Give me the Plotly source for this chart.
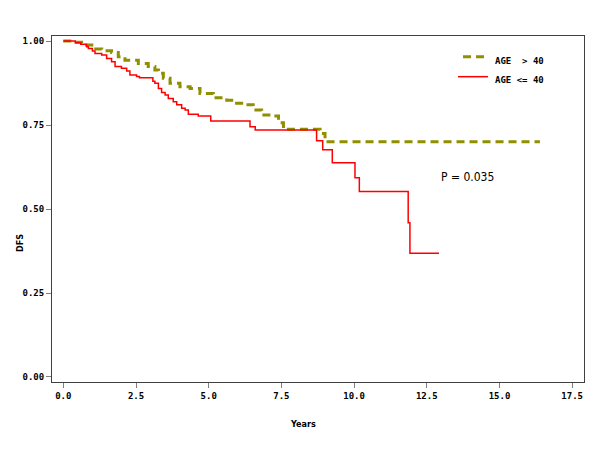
import plotly.graph_objects as go

# ---- data ----
older_years = [0.0, 0.40, 0.63, 0.80, 0.98, 1.32, 1.66, 1.89, 2.12, 2.58, 2.92, 3.15, 3.27, 3.44,
               3.67, 4.01, 4.36, 4.70, 5.16, 5.62, 5.96, 6.19, 6.53, 6.82, 7.17, 7.40, 7.57,
               8.83, 9.00, 16.39]
older_dfs = [1.000, 0.996, 0.993, 0.988, 0.976, 0.971, 0.966, 0.953, 0.943, 0.933, 0.924, 0.914,
             0.904, 0.889, 0.874, 0.864, 0.859, 0.844, 0.831, 0.824, 0.815, 0.810, 0.795, 0.780,
             0.777, 0.757, 0.737, 0.725, 0.700, 0.700]

younger_years = [0.0, 0.41, 0.60, 0.80, 0.86, 1.00, 1.09, 1.32, 1.49, 1.66, 1.78, 2.00, 2.18,
                 2.29, 2.52, 2.62, 3.08, 3.15, 3.27, 3.38, 3.50, 3.61, 3.78, 3.90, 4.07, 4.19,
                 4.30, 4.64, 5.07, 6.42, 6.60, 8.71, 8.92, 9.25, 10.03, 10.18, 11.86, 11.92,
                 12.92]
younger_dfs = [1.000, 0.995, 0.990, 0.983, 0.978, 0.970, 0.963, 0.958, 0.948, 0.938, 0.924, 0.919,
               0.911, 0.899, 0.894, 0.891, 0.880, 0.874, 0.859, 0.847, 0.839, 0.829, 0.819, 0.810,
               0.800, 0.795, 0.782, 0.777, 0.762, 0.745, 0.735, 0.703, 0.676, 0.638, 0.593,
               0.552, 0.459, 0.368, 0.368]

x_ticks = [0.0, 2.5, 5.0, 7.5, 10.0, 12.5, 15.0, 17.5]
y_ticks = [0.00, 0.25, 0.50, 0.75, 1.00]
series_names = ["AGE  > 40", "AGE <= 40"]
p_text = "P = 0.035"

OLIVE = "#8f8f00"
RED = "#ff0000"
AXIS = "#404040"
MONO = "DejaVu Sans Mono, monospace"
NARROW = "DejaVu Sans Condensed, Liberation Sans Narrow, sans-serif"

fig = go.Figure()
fig.add_trace(go.Scatter(x=older_years, y=older_dfs, mode="lines", line_shape="hv",
                         line=dict(color=OLIVE, width=3, dash="8px,5px"),
                         name=series_names[0], showlegend=False))
fig.add_trace(go.Scatter(x=younger_years, y=younger_dfs, mode="lines", line_shape="hv",
                         line=dict(color=RED, width=1.5),
                         name=series_names[1], showlegend=False))

# manual legend
fig.add_shape(type="line", xref="paper", yref="paper", x0=0.7726, x1=0.8195, y0=0.9402, y1=0.9402,
              line=dict(color=OLIVE, width=3, dash="8px,5px"))
fig.add_shape(type="line", xref="paper", yref="paper", x0=0.7632, x1=0.8195, y0=0.8824, y1=0.8824,
              line=dict(color=RED, width=1.5))
fig.add_annotation(xref="paper", yref="paper", x=0.9286, y=0.9286, xanchor="right", yanchor="middle",
                   text=series_names[0], showarrow=False,
                   font=dict(family=MONO, size=9, color="black", weight="bold"))
fig.add_annotation(xref="paper", yref="paper", x=0.9286, y=0.8728, xanchor="right", yanchor="middle",
                   text=series_names[1].replace("<", "&lt;"), showarrow=False,
                   font=dict(family=MONO, size=9, color="black", weight="bold"))

# p-value
fig.add_annotation(x=12.92, y=0.595, xanchor="left", yanchor="middle", text=p_text, showarrow=False,
                   font=dict(family=NARROW, size=12, color="black"))

# axis titles
fig.add_annotation(xref="paper", yref="paper", x=0.4712, y=-0.1214, text="<b>Years</b>", showarrow=False,
                   xanchor="center", yanchor="middle", font=dict(family=NARROW, size=9, color="black"))
fig.add_annotation(xref="paper", yref="paper", x=-0.0602, y=0.4017, text="<b>DFS</b>", showarrow=False,
                   textangle=-90, xanchor="center", yanchor="middle",
                   font=dict(family=NARROW, size=9, color="black"))

fig.update_layout(
    width=600, height=468,
    margin=dict(l=44, r=24, t=28, b=94),
    paper_bgcolor="white", plot_bgcolor="white",
    xaxis=dict(range=[-0.389, 17.906], tickvals=x_ticks, tickformat=".1f",
               showline=True, linecolor=AXIS, linewidth=1, mirror=True,
               ticks="outside", ticklen=5, tickcolor="#808080", showgrid=False, zeroline=False,
               tickfont=dict(family=MONO, size=9, color="black", weight="bold")),
    yaxis=dict(range=[-0.0149, 1.0149], tickvals=y_ticks, tickformat=".2f",
               showline=True, linecolor=AXIS, linewidth=1, mirror=True,
               ticks="outside", ticklen=5, tickcolor="#808080", showgrid=False, zeroline=False,
               tickfont=dict(family=MONO, size=9, color="black", weight="bold")),
)

fig.write_html("out.html")
